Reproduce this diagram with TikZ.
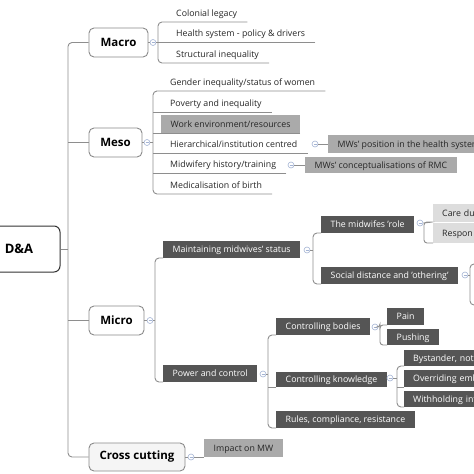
\documentclass[tikz,border=0pt]{standalone}
\usepackage{fontspec}
\setmainfont{Open Sans}
\usetikzlibrary{calc}
\definecolor{brc}{HTML}{8E8E8E}
\definecolor{darkbox}{HTML}{555555}
\definecolor{midbox}{HTML}{AAAAAA}
\definecolor{lightbox}{HTML}{DDDDDD}
\definecolor{colblue}{HTML}{A4B4D4}
\definecolor{lonebox}{HTML}{8A8A8A}
\newcommand\smallfs{\fontsize{8.8}{10}\selectfont}
\newcommand\colc[3]{\node[colc] (#1) at (#2,#3) {};
  \draw[colminus] ([xshift=-1.5pt]#1.center) -- ([xshift=1.5pt]#1.center);}
\tikzset{
  branch/.style={draw=brc, line width=0.9pt, rounded corners=4pt},
  rootbox/.style={draw=black!80, line width=1pt, rounded corners=6pt, fill=white,
    font=\bfseries\fontsize{13}{15}\selectfont, minimum width=82pt, minimum height=46pt},
  lonebx/.style={draw=lonebox, line width=0.9pt, rounded corners=5pt, fill=white,
    font=\bfseries\fontsize{11.5}{13}\selectfont, minimum height=29pt, inner sep=0pt},
  ul/.style={anchor=south west, inner xsep=10pt, inner ysep=0pt, minimum height=18pt,
    text height=8pt, text depth=1pt, font=\smallfs, text=black!85},
  gbox/.style={ul, fill=midbox, inner xsep=9.5pt, text=black!85},
  dbox/.style={ul, fill=darkbox, inner xsep=9.5pt, minimum height=17pt, text=white},
  lbox/.style={ul, fill=lightbox, inner xsep=9pt, text width=60pt, align=left, text=black!85},
  ebox/.style={dbox, inner xsep=9pt, text width=80pt, align=left},
  colc/.style={circle, draw=colblue, line width=0.6pt, fill=white, inner sep=0pt, minimum size=6pt},
  colminus/.style={draw=colblue, line width=0.6pt},
}
\begin{document}
\begin{tikzpicture}[x=1pt,y=-1pt]
\useasboundingbox (0,0) rectangle (474,474);
\clip (0,0) rectangle (474,474);
\fill[white] (0,0) rectangle (474,474);

% trunk
\coordinate (tx) at (68,0);
\node[rootbox] (root) at (19,249) {D\&A};
\node[lonebx, minimum width=59pt] (macro) at (118.5,42.5) {Macro};
\node[lonebx, minimum width=53pt] (meso) at (115.5,142.5) {Meso};
\node[lonebx, minimum width=55pt] (micro) at (116.5,320.5) {Micro};
\node[lonebx, minimum width=96pt, minimum height=28pt, fill=black!4] (cross) at (137,457) {Cross cutting};
\draw[branch] (macro.west) -| (tx |- cross.west) -- (cross.west);
\draw[branch] (meso.west) -- (meso.west -| tx);
\draw[branch] (micro.west) -- (micro.west -| tx);
\draw[branch] (root.east) -- (root.east -| tx);

% Macro
\colc{cmac}{153}{42.5}
\draw[branch] (macro.east) -- (cmac.west);
\coordinate (bmac) at (158,0);
\node[ul] (ma1) at (166,22) {Colonial legacy};
\node[ul] (ma2) at (166,42) {Health system - policy \& drivers};
\node[ul] (ma3) at (166,63) {Structural inequality};
\draw[branch] (cmac.east) -- (cmac.east -| bmac);
\draw[branch] (ma1.south east) -- (ma1.south west) -| (bmac |- ma3.south west) -- (ma3.south east);
\draw[branch] (ma2.south east) -- (ma2.south west -| bmac);

% Meso
\colc{cmes}{147}{142.5}
\draw[branch] (meso.east) -- (cmes.west);
\coordinate (bmes) at (153,0);
\node[ul] (me1) at (160,91) {Gender inequality/status of women};
\node[ul] (me2) at (160,112) {Poverty and inequality};
\node[gbox] (me3) at (161,133) {Work environment/resources};
\node[ul] (me4) at (160,153) {Hierarchical/institution centred};
\node[ul] (me5) at (160,173) {Midwifery history/training};
\node[ul] (me6) at (160,194) {Medicalisation of birth};
\draw[branch] (cmes.east) -- (cmes.east -| bmes);
\draw[branch] (me1.south east) -- (me1.south west) -| (bmes |- me6.south west) -- (me6.south east);
\draw[branch] (me2.south east) -- (me2.south west -| bmes);
\draw[branch] (me3.south east) -- (me3.south west -| bmes);
\draw[branch] (me4.south east) -- (me4.south west -| bmes);
\draw[branch] (me5.south east) -- (me5.south west -| bmes);
\colc{cme4}{315}{144}
\colc{cme5}{291}{165}
\node[gbox] (me4a) at (328,153) {MWs' position in the health system};
\node[gbox, minimum height=16pt] (me5a) at (305,173) {MWs' conceptualisations of RMC};
\draw[branch] (cme4.east) -- (cme4.east -| me4a.west);
\draw[branch] (cme5.east) -- (cme5.east -| me5a.west);

% Micro
\colc{cmic}{150}{320.5}
\draw[branch] (micro.east) -- (cmic.west);
\coordinate (bmic) at (155,0);
\node[dbox] (mi1) at (163,258) {Maintaining midwives' status};
\node[dbox] (mi2) at (163,382) {Power and control};
\draw[branch] (cmic.east) -- (cmic.east -| bmic);
\draw[branch] (mi1.south west) -| (bmic |- mi2.south west) -- (mi2.south west);

% Maintaining
\colc{cmi1}{307}{250}
\coordinate (bmi1) at (313,0);
\node[dbox] (mi11) at (321,233) {The midwifes 'role};
\node[dbox] (mi12) at (321,284) {Social distance and 'othering'};
\draw[branch] (cmi1.east) -- (cmi1.east -| bmi1);
\draw[branch] (mi11.south west) -| (bmi1 |- mi12.south west) -- (mi12.south west);

\colc{cmi11}{420}{223}
\coordinate (bmi11) at (424,0);
\node[lbox] (r1) at (433,222) {Care du};
\node[lbox, minimum height=20pt] (r2) at (433,243) {Respon};
\draw[branch, rounded corners=3pt] (cmi11.east) -- (r1.south west) -- (r1.south west -| bmi11) |- (r2.south west);

\colc{cmi12}{465}{275}
\coordinate (bmi12) at (470,0);
\coordinate (sd1) at (482,264);
\coordinate (sd2) at (482,305);
\draw[branch] (cmi12.east) -- (cmi12.east -| bmi12);
\draw[branch] (sd1) -- (sd1 -| bmi12) |- (sd2);

% Power and control
\colc{cmi2}{263}{374}
\coordinate (bmi2) at (268,0);
\node[dbox] (p1) at (276,335) {Controlling bodies};
\node[dbox, minimum height=15pt] (p2) at (276,387) {Controlling knowledge};
\node[dbox] (p3) at (276,428) {Rules, compliance, resistance};
\draw[branch] (cmi2.east) -- (cmi2.east -| bmi2);
\draw[branch] (p1.south west) -| (bmi2 |- p3.south west) -- (p3.south west);
\draw[branch] (p2.south west) -- (p2.south west -| bmi2);

\colc{cp1}{375}{327}
\coordinate (bp1) at (380,0);
\node[dbox] (p11) at (387,325) {Pain};
\node[dbox, minimum height=16pt] (p12) at (387,345) {Pushing};
\draw[branch, rounded corners=3pt] (cp1.east) -- (cp1.east -| bp1) -- (bp1 |- p11.south west) -- (p11.south west);
\draw[branch, rounded corners=3pt] (cp1.east -| bp1) |- (p12.south west);

\colc{cp2}{390}{378}
\coordinate (bp2) at (397,0);
\node[ebox, minimum height=16pt] (p21) at (404,366) {Bystander, not};
\node[ebox] (p22) at (404,387) {Overriding emb};
\node[ebox, minimum height=16pt] (p23) at (404,407) {Withholding inf};
\draw[branch] (cp2.east) -- (cp2.east -| bp2);
\draw[branch] (p21.south west) -| (bp2 |- p23.south west) -- (p23.south west);
\draw[branch] (p22.south west) -- (p22.south west -| bp2);

% Cross cutting
\colc{ccr}{191}{457}
\draw[branch] (cross.east) -- (ccr.west);
\node[gbox, minimum height=18pt] (cr1) at (204,457) {Impact on MW};
\draw[branch] (ccr.east) -- (cr1.south west);
\end{tikzpicture}
\end{document}
